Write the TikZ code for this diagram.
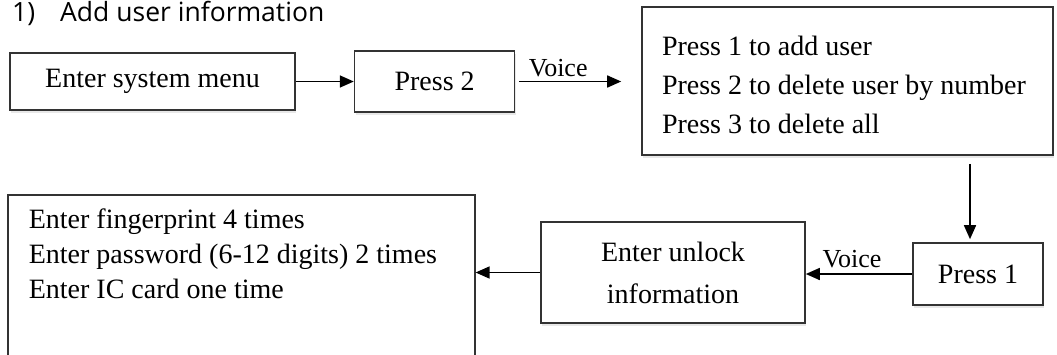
\documentclass[tikz,border=0pt]{standalone}
\usepackage{fontspec}
\setmainfont{Liberation Serif}
\newfontfamily\headfont{Open Sans}
\usetikzlibrary{arrows.meta,positioning,calc,shadows}
\tikzset{
  blk/.style={rectangle, draw=black!80, line width=1.6pt, fill=white, inner sep=0pt,
              drop shadow={shadow xshift=1pt, shadow yshift=-2.5pt, opacity=.18},
              align=center, font=\fontsize{28}{34}\selectfont},
  lst/.style={blk, align=flush left},
  ar/.style={-{Triangle[length=14pt, width=12pt]}, line width=1.6pt, draw=black},
  lbl/.style={font=\fontsize{26}{30}\selectfont},
  ttl/.style={font=\headfont\fontsize{26.5}{30}\selectfont, anchor=base west, inner sep=0pt},
}

\begin{document}
\begin{tikzpicture}[x=1pt, y=-1pt]
  \useasboundingbox (0,0) rectangle (1057,354);

  % ============ heading ============
  \node[ttl] (title) at (12,21) {1)\hspace{25pt}Add user information};

  % ============ top row: menu to voice prompt ============
  \node[blk, minimum width=285pt, minimum height=57pt] (menu) at (152.5,81.5)
    {Enter system menu};
  \node[blk, minimum width=160pt, minimum height=61pt, right=58pt of menu] (p2)
    {Press 2};
  \node[lst, minimum width=411pt, minimum height=148pt, text width=371pt,
        text height=28pt, font=\fontsize{28}{39}\selectfont] (opts) at (847.5,81)
    {Press 1 to add user\\
     Press 2 to delete user by number\\
     Press 3 to delete all};

  \draw[ar] (menu) -- (p2);
  \draw[ar, shorten <=4pt, shorten >=20pt] (p2.east) -- (p2.east -| opts.west)
    node[lbl, pos=0.34, above] {Voice};

  % ============ bottom row: back to the left ============
  \node[blk, minimum width=130pt, minimum height=62pt] (p1) at (978,274)
    {Press 1};
  \node[blk, minimum width=264pt, minimum height=101pt,
        font=\fontsize{28}{42}\selectfont] (unl) at (673,272.5)
    {Enter unlock\\ information};
  \node[lst, anchor=north west, minimum width=467pt, text width=425pt,
        inner ysep=14pt, text depth=150pt, font=\fontsize{28}{35}\selectfont] (info)
    at (7,194)
    {Enter fingerprint 4 times\\
     Enter password (6-12 digits) 2 times\\
     Enter IC card one time};

  \draw[ar, shorten <=8pt, shorten >=3pt]
    ([xshift=-8pt]p1.north |- opts.south) -- ([xshift=-8pt]p1.north);
  \draw[ar] (p1.west) -- (p1.west -| unl.east)
    node[lbl, pos=0.565, above, inner sep=5pt] {Voice};
  \draw[ar] (unl.west) -- (unl.west -| info.east);

\end{tikzpicture}
\end{document}
